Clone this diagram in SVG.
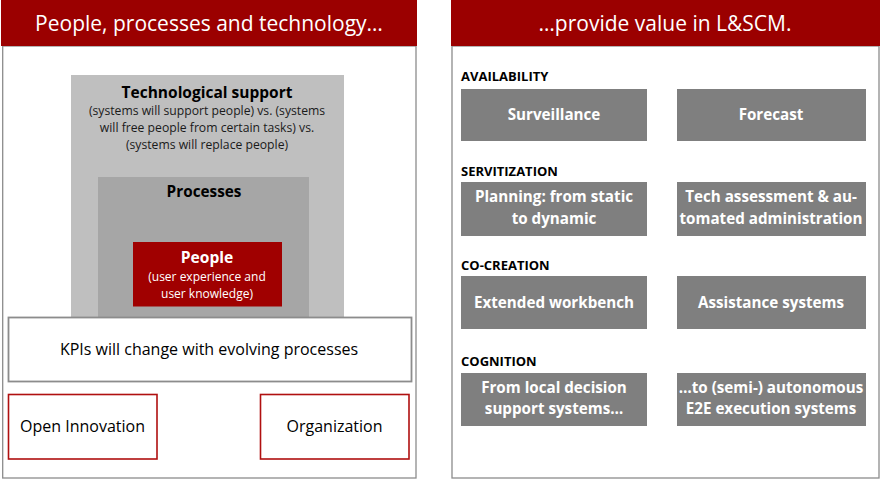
<svg xmlns="http://www.w3.org/2000/svg" width="880" height="479" viewBox="0 0 880 479">
<style>
text{font-family:"Open Sans","Liberation Sans",sans-serif;text-anchor:middle}
.hdr{fill:#9B0000}
.hdrt{fill:#fff;font-size:21px}
.panel{fill:#fff;stroke:#8c8c8c;stroke-width:1.3}
.b{font-weight:bold}
.sub{fill:#1a1a1a;font-size:12.2px}
.cat{font-weight:bold;font-size:13px;text-anchor:start;fill:#000}
.gbox{fill:#7F7F7F}
.gt{fill:#fff;font-weight:bold;font-size:15.2px}
.rbox{fill:#fff;stroke:#B01010;stroke-width:1.6}
.nt{font-size:16px;fill:#000}
</style>
<g id="left-panel">
<rect class="panel" x="2.7" y="46" width="413.3" height="432"/>
<rect class="hdr" x="1" y="0" width="416" height="46"/>
<text class="hdrt" x="209" y="31">People, processes and technology…</text>
</g>
<g id="tech-support">
<rect x="71" y="75" width="273" height="243" fill="#BFBFBF"/>
<text class="b" x="207" y="98" font-size="15.5px">Technological support</text>
<text class="sub" x="207" y="115">(systems will support people) vs. (systems</text>
<text class="sub" x="207" y="132">will free people from certain tasks) vs.</text>
<text class="sub" x="207" y="149">(systems will replace people)</text>
</g>
<g id="processes">
<rect x="98" y="177" width="211" height="141" fill="#A6A6A6"/>
<text class="b" x="204" y="197" font-size="15.3px">Processes</text>
</g>
<g id="people">
<rect x="133" y="242" width="149" height="64.5" fill="#A00000"/>
<text class="b" x="207" y="263" font-size="15.6px" fill="#fff">People</text>
<text x="207" y="281" font-size="12px" fill="#fff">(user experience and</text>
<text x="207" y="298" font-size="12px" fill="#fff">user knowledge)</text>
</g>
<g id="kpis">
<rect x="8.5" y="317.5" width="403" height="64" fill="#fff" stroke="#8c8c8c" stroke-width="1.8"/>
<text class="nt" x="209" y="355">KPIs will change with evolving processes</text>
</g>
<g id="open-innovation">
<rect class="rbox" x="8.5" y="394.5" width="148.5" height="64.5"/>
<text class="nt" x="82.5" y="432">Open Innovation</text>
</g>
<g id="organization">
<rect class="rbox" x="260.5" y="394.5" width="148.5" height="64.5"/>
<text class="nt" x="334.5" y="432">Organization</text>
</g>
<g id="right-panel">
<rect class="panel" x="452" y="46" width="427" height="432"/>
<rect class="hdr" x="451" y="0" width="429" height="46"/>
<text class="hdrt" x="665" y="31">…provide value in L&amp;SCM.</text>
<text class="cat" x="461" y="81">AVAILABILITY</text>
<text class="cat" x="461" y="176">SERVITIZATION</text>
<text class="cat" x="461" y="270">CO-CREATION</text>
<text class="cat" x="461" y="366">COGNITION</text>
</g>
<g id="surveillance">
<rect class="gbox" x="461" y="89" width="186" height="52"/>
<text class="gt" x="554" y="120">Surveillance</text>
</g>
<g id="forecast">
<rect class="gbox" x="677" y="89" width="189" height="52"/>
<text class="gt" x="771" y="120">Forecast</text>
</g>
<g id="planning">
<rect class="gbox" x="461" y="182" width="186" height="54"/>
<text class="gt" x="554" y="202">Planning: from static</text>
<text class="gt" x="554" y="224">to dynamic</text>
</g>
<g id="tech-assessment">
<rect class="gbox" x="677" y="182" width="189" height="54"/>
<text class="gt" x="771" y="202">Tech assessment &amp; au-</text>
<text class="gt" x="771" y="224">tomated administration</text>
</g>
<g id="extended-workbench">
<rect class="gbox" x="461" y="276" width="186" height="53"/>
<text class="gt" x="554" y="308">Extended workbench</text>
</g>
<g id="assistance-systems">
<rect class="gbox" x="677" y="276" width="189" height="53"/>
<text class="gt" x="771" y="308">Assistance systems</text>
</g>
<g id="local-decision">
<rect class="gbox" x="461" y="373" width="186" height="53"/>
<text class="gt" x="554" y="393">From local decision</text>
<text class="gt" x="554" y="414">support systems…</text>
</g>
<g id="autonomous">
<rect class="gbox" x="677" y="373" width="189" height="53"/>
<text class="gt" x="771" y="393">…to (semi-) autonomous</text>
<text class="gt" x="771" y="414">E2E execution systems</text>
</g>
<g id="connectors"/>
</svg>
